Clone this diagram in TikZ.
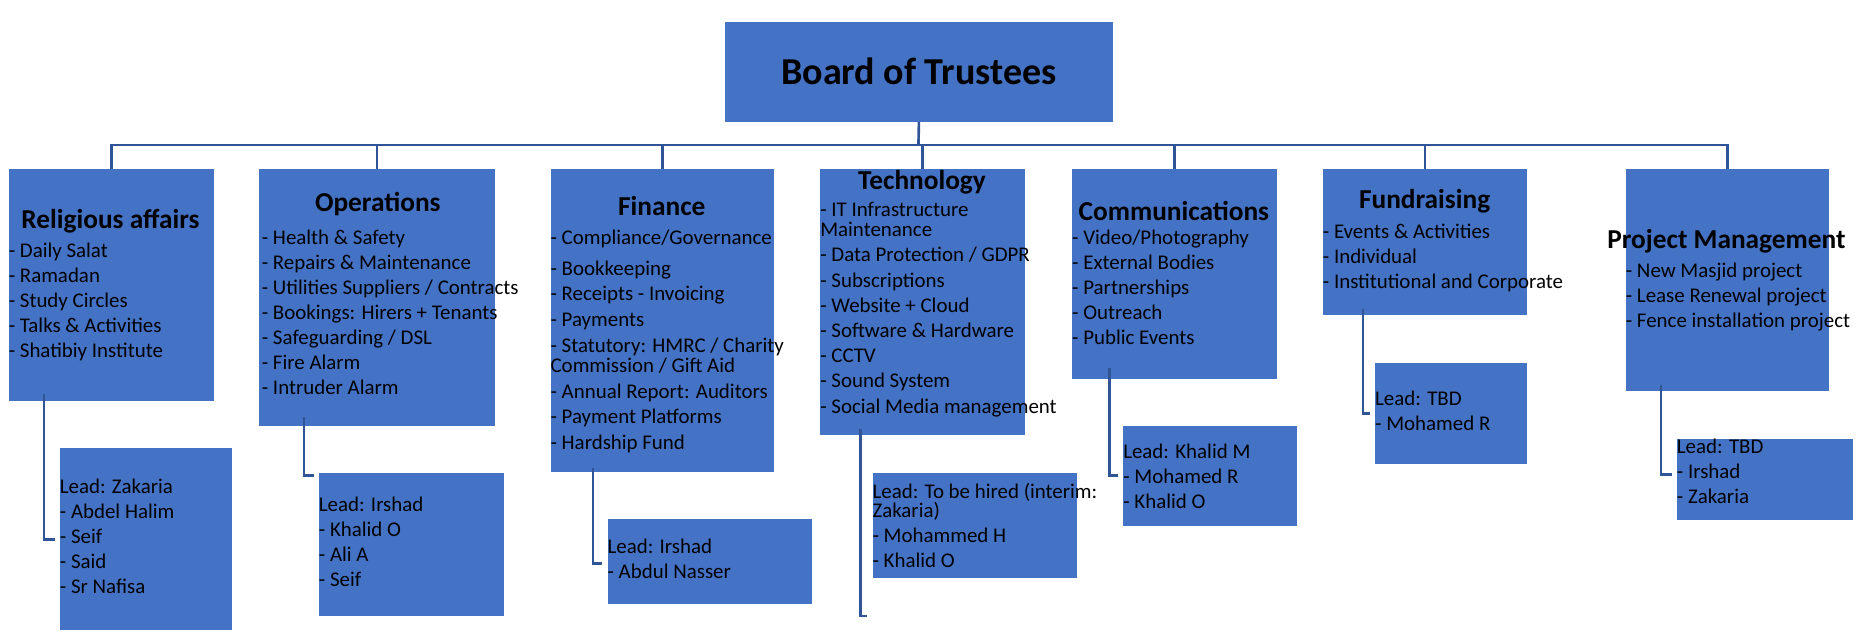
\documentclass[tikz,border=0pt]{standalone}
\usepackage{fontspec}
\setmainfont{Carlito}
\usepackage{tikz}

\tikzset{
  unit/.style={draw=none,fill={rgb,255:red,68;green,114;blue,196},inner sep=0pt,anchor=north west},
  head/.style={font=\fontsize{11.5}{13}\selectfont\bfseries,inner sep=0pt},
  items/.style={font=\fontsize{8.8}{10.5}\selectfont,align=left,inner sep=0pt,anchor=north west},
  wire/.style={draw={rgb,255:red,47;green,85;blue,151},line width=1.1pt},
}

\begin{document}
\begin{tikzpicture}[x=0.5pt,y=0.5pt,yscale=-1,xscale=1]
\useasboundingbox (0,0) rectangle (1568,540);

% Board
\node [unit,minimum width=163pt,minimum height=42pt] (board) at (610,18) {};
\node [font=\fontsize{16}{19}\selectfont\bfseries,inner sep=0pt] (boardt) at (board.center) {Board of Trustees};
\coordinate (bus) at (773,122);

% Religious affairs
\node [unit,minimum width=86.5pt,minimum height=97.5pt] (rel) at (7,142) {};
\node [head] (relt) at (93,186) {Religious affairs};
\node [items] (reli) at (7,204) {- Daily Salat\\- Ramadan\\- Study Circles\\- Talks \& Activities\\- Shatibiy Institute};
\node [unit,minimum width=72.5pt,minimum height=76.5pt] (rell) at (50,377) {};
\node [items] (relli) at (50,403) {Lead: Zakaria\\- Abdel Halim\\- Seif\\- Said\\- Sr Nafisa};

% Operations
\node [unit,minimum width=99pt,minimum height=108pt] (ops) at (218,142) {};
\node [head] (opst) at (318,172) {Operations};
\node [items] (opsi) at (220,193) {- Health \& Safety\\- Repairs \& Maintenance\\- Utilities Suppliers / Contracts\\- Bookings: Hirers + Tenants\\- Safeguarding / DSL\\- Fire Alarm\\- Intruder Alarm};
\node [unit,minimum width=78pt,minimum height=60pt] (opsl) at (268,398) {};
\node [items] (opsli) at (268,418) {Lead: Irshad\\- Khalid O\\- Ali A\\- Seif};

% Finance
\node [unit,minimum width=94pt,minimum height=127.5pt] (fin) at (463,142) {};
\node [head] (fint) at (557,173) {Finance};
\node [items,font=\fontsize{8.8}{10.8}\selectfont] (fini) at (463,193) {- Compliance/Governance\\[0.25em]- Bookkeeping\\- Receipts - Invoicing\\- Payments\\- Statutory: HMRC / Charity\\[-0.25em]Commission / Gift Aid\\- Annual Report: Auditors\\- Payment Platforms\\ - Hardship Fund};
\node [unit,minimum width=86pt,minimum height=36pt] (finl) at (511,436) {};
\node [items] (finli) at (511,453) {Lead: Irshad\\- Abdul Nasser};

% Technology
\node [unit,minimum width=86pt,minimum height=112pt] (tec) at (690,142) {};
\node [head] (tect) at (776,153) {Technology};
\node [items,font=\fontsize{8.8}{10.6}\selectfont] (teci) at (690,170) {- IT Infrastructure\\[-0.25em]Maintenance\\- Data Protection / GDPR\\- Subscriptions\\- Website + Cloud\\- Software \& Hardware\\- CCTV\\- Sound System\\- Social Media management};
\node [unit,minimum width=86pt,minimum height=44pt] (tecl) at (734,398) {};
\node [items] (tecli) at (734,406) {Lead: To be hired (interim:\\[-0.25em]Zakaria)\\- Mohammed H\\- Khalid O};

% Communications
\node [unit,minimum width=86pt,minimum height=88.5pt] (com) at (902,142) {};
\node [head] (comt) at (988,178) {Communications};
\node [items] (comi) at (902,193) {- Video/Photography\\- External Bodies\\- Partnerships\\- Outreach\\- Public Events};
\node [unit,minimum width=73pt,minimum height=42pt] (coml) at (945,358) {};
\node [items] (comli) at (945,373) {Lead: Khalid M\\- Mohamed R\\- Khalid O};

% Fundraising
\node [unit,minimum width=86pt,minimum height=61.5pt] (fun) at (1113,142) {};
\node [head] (funt) at (1199,169) {Fundraising};
\node [items] (funi) at (1113,188) {- Events \& Activities\\- Individual\\- Institutional and Corporate};
\node [unit,minimum width=64pt,minimum height=42.5pt] (funl) at (1157,305) {};
\node [items] (funli) at (1157,329) {Lead: TBD\\- Mohamed R};

% Project Management
\node [unit,minimum width=85.5pt,minimum height=93.5pt] (pro) at (1368,142) {};
\node [head] (prot) at (1453,203) {Project Management};
\node [items] (proi) at (1368,221) {- New Masjid project\\- Lease Renewal project\\- Fence installation project};
\node [unit,minimum width=74pt,minimum height=34pt] (prol) at (1411,369) {};
\node [items] (proli) at (1411,369) {Lead: TBD\\- Irshad\\- Zakaria};

% Connectors
\draw [wire] (board.south) -- (bus);
\draw [wire] (rel.north) -- ++(0,-20) -| (pro.north);
\foreach \n in {ops,fin,tec,com,fun}
  \draw [wire] (\n.north) -- ++(0,-20);
\draw [wire] ([xshift=15,yshift=-3]rel.south west) |- ([xshift=-2]rell.west);
\draw [wire] ([xshift=19,yshift=-4]ops.south west) |- ([xshift=-2,yshift=-29]opsl.west);
\draw [wire] ([xshift=18,yshift=-2]fin.south west) |- ([xshift=-2,yshift=1]finl.west);
\draw [wire] ([xshift=17,yshift=-3]tec.south west) |- ([xshift=-2,yshift=38]tecl.west);
\draw [wire] ([xshift=16,yshift=-5]com.south west) |- ([xshift=-2]coml.west);
\draw [wire] ([xshift=17,yshift=-3]fun.south west) |- ([xshift=-2]funl.west);
\draw [wire] ([xshift=15,yshift=-3]pro.south west) |- ([xshift=-2,yshift=-2]prol.west);
\end{tikzpicture}
\end{document}
